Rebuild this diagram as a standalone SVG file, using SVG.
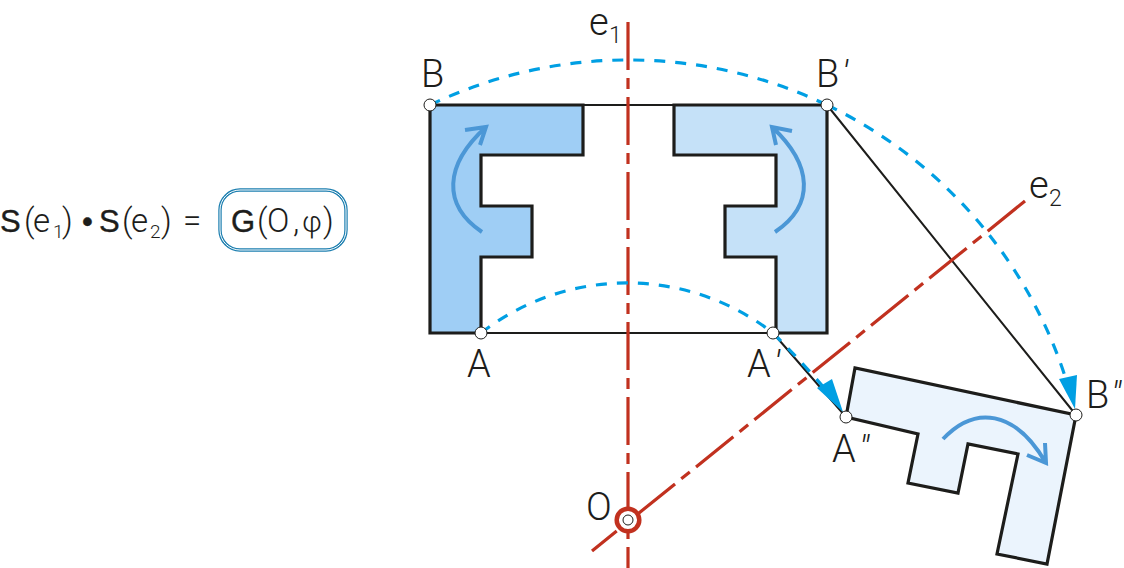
<svg xmlns="http://www.w3.org/2000/svg" width="1124" height="568" viewBox="0 0 1124 568">
<style>
text{font-family:Roboto,"Liberation Sans",sans-serif;fill:#1d1d1b}
.lab{font-size:38px;font-weight:300}
.prime{font-style:italic;font-size:36px;font-weight:300}
.sub{font-size:23px;font-weight:300}
.eq{font-size:33px;font-weight:300}
.phi{font-size:29px;font-weight:300}
.eqb{font-family:"Liberation Sans",sans-serif;font-size:31px;stroke:#1d1d1b;stroke-width:.4}
.eqs{font-size:19px;font-weight:300}
.shape{stroke:#1d1d1b;stroke-width:3.2;stroke-linejoin:miter}
.thin{stroke:#1d1d1b;stroke-width:2;fill:none}
.axis{stroke:#c1311f;stroke-width:3.2;fill:none;stroke-dasharray:48 8 11 8}
.arc{stroke:#009fe3;stroke-width:3.2;fill:none;stroke-dasharray:11 10}
.turn{stroke:#4b97d6;stroke-width:4;fill:none}
.head{fill:#009fe3}
.pt{fill:#fff;stroke:#1d1d1b;stroke-width:1}
</style>
<g id="formula">
<text y="232"><tspan class="eqb" x="0">S</tspan><tspan class="eq" x="24">(</tspan><tspan class="eq" x="33">e</tspan><tspan class="eqs" x="53" dy="6">1</tspan><tspan class="eq" x="62" dy="-6">)</tspan><tspan class="eqb" x="82">•</tspan><tspan class="eqb" x="99">S</tspan><tspan class="eq" x="122">(</tspan><tspan class="eq" x="131">e</tspan><tspan class="eqs" x="150" dy="6">2</tspan><tspan class="eq" x="161" dy="-6">)</tspan><tspan class="eq" x="183">=</tspan></text>
</g>
<g id="frame">
<rect x="220" y="190" width="126" height="60" rx="20" fill="#fff" stroke="#1d7fb0" stroke-width="3.4"/>
<rect x="220" y="190" width="126" height="60" rx="20" fill="none" stroke="#fff" stroke-width="1"/>
<text y="232"><tspan class="eqb" x="231">G</tspan><tspan class="eq" x="257">(</tspan><tspan class="eq" x="267">O</tspan><tspan class="eq" x="293">,</tspan><tspan class="phi" x="302">φ</tspan><tspan class="eq" x="323">)</tspan></text>
</g>
<g id="shape-left"><polygon class="shape" fill="#9fcef5" points="430,105 583,105 583,155 481,155 481,206 532,206 532,257 481,257 481,333 430,333"/></g>
<g id="shape-right"><polygon class="shape" fill="#c5e1f8" points="827,105 674,105 674,155 776,155 776,206 725,206 725,257 776,257 776,333 827,333"/></g>
<g id="shape-rotated"><polygon class="shape" fill="#ebf4fd" points="846,417 855,368 1076,415 1047,564 997,554 1018,454 968,444 958,493 908,483 918,434"/></g>
<g id="connectors">
<path class="thin" d="M430,105H827M481,333H776M773,333L846,417M827,105L1076,415"/>
<path class="axis" d="M628,22V568"/>
<path class="axis" d="M1025,201L592,551"/>
<path class="arc" d="M430,105A460,460 0 0 1 827,105"/>
<path class="arc" d="M827,105A460,460 0 0 1 1069,389"/>
<path class="arc" d="M481,333A238,238 0 0 1 773,333"/>
<path class="arc" d="M773,333Q805,365 830,395"/>
<polygon class="head" points="832,379 817,388 843,412"/>
<polygon class="head" points="1077,375 1059,379 1075,409"/>
<path class="turn" d="M482,232C442,205 444,165 486,127M465,130L486,127L480,145"/>
<path class="turn" d="M775,232C815,205 813,165 772,127M792,131L772,127L776,145"/>
<path class="turn" d="M943,439C975,405 1015,410 1046,463M1027,455L1046,463L1045,443"/>
</g>
<g id="point-B"><circle class="pt" cx="430" cy="105" r="6"/><text class="lab" x="421" y="87">B</text></g>
<g id="point-B1"><circle class="pt" cx="827" cy="105" r="6"/><text class="lab" x="816" y="87">B<tspan class="prime" x="842">′</tspan></text></g>
<g id="point-B2"><circle class="pt" cx="1076" cy="415" r="6"/><text class="lab" x="1086" y="408">B<tspan class="prime" x="1111">″</tspan></text></g>
<g id="point-A"><circle class="pt" cx="481" cy="333" r="6"/><text class="lab" x="467" y="377">A</text></g>
<g id="point-A1"><circle class="pt" cx="773" cy="333" r="6"/><text class="lab" x="747" y="377">A<tspan class="prime" x="774">′</tspan></text></g>
<g id="point-A2"><circle class="pt" cx="846" cy="417" r="6"/><text class="lab" x="832" y="462">A<tspan class="prime" x="859">″</tspan></text></g>
<g id="point-O"><circle cx="628" cy="520" r="11.3" fill="#fff" stroke="#c1311f" stroke-width="4.5"/><circle cx="628" cy="520" r="5" fill="#fff" stroke="#1d1d1b" stroke-width="1"/><text class="lab" x="586" y="520">O</text></g>
<g id="label-e1"><text class="lab" x="589" y="35">e</text><text class="sub" x="609" y="43">1</text></g>
<g id="label-e2"><text class="lab" x="1029" y="198">e</text><text class="sub" x="1049" y="206">2</text></g>
</svg>
